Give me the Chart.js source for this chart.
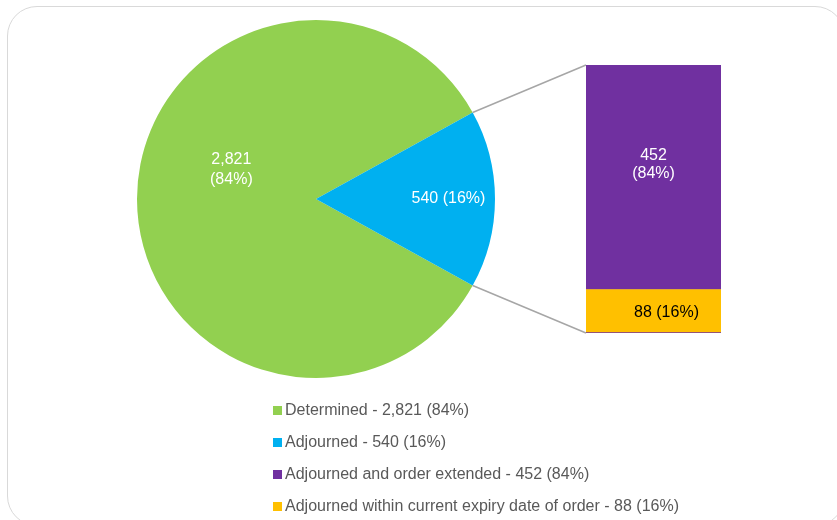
<!DOCTYPE html>
<html>
<head>
<meta charset="utf-8">
<script src="https://cdn.jsdelivr.net/npm/chart.js@4/dist/chart.umd.min.js"></script>
<style>
  html, body { margin: 0; padding: 0; background: #fff; }
  body { width: 837px; height: 520px; position: relative; overflow: hidden; font-family: "Liberation Sans", Arial, sans-serif; }
  #frame { position: absolute; left: 7px; top: 6px; width: 838px; height: 520px; border: 1.5px solid #d9d9d9; border-radius: 30px; box-sizing: border-box; }
  #pie { position: absolute; left: 0; top: 0; }
  #bar { position: absolute; left: 586px; top: 65px; }
  #legend { position: absolute; left: 273px; top: 400px; }
  .li { height: 32px; display: flex; align-items: flex-start; font-size: 16px; color: #595959; line-height: 20px; }
  .sw { width: 9px; height: 9px; margin-top: 6px; margin-right: 3px; flex: none; }
</style>
</head>
<body>
<div id="frame"></div>
<canvas id="pie" width="837" height="520"></canvas>
<canvas id="bar" width="135" height="268"></canvas>
<div id="legend"></div>
<script>
// ---- data ----
const pieLabels = ['Determined', 'Adjourned'];
const pieValues = [2821, 540];
const piePercents = ['84%', '16%'];
const pieColors = ['#92D050', '#00B0F0'];

const barLabels = ['Adjourned within current expiry date of order', 'Adjourned and order extended'];
const barValues = [88, 452];
const barPercents = ['16%', '84%'];
const barColors = ['#FFC000', '#7030A0'];

const legendLabels = ['Determined', 'Adjourned', 'Adjourned and order extended', 'Adjourned within current expiry date of order'];
const legendValues = [2821, 540, 452, 88];
const legendPercents = ['84%', '16%', '84%', '16%'];
const legendColors = ['#92D050', '#00B0F0', '#7030A0', '#FFC000'];

const fmt = v => v.toLocaleString('en-US');
const FONT = '16px "Liberation Sans", Arial, sans-serif';

// ---- bar (breakout) chart ----
const barLabelPlugin = {
  id: 'barLabels',
  afterDatasetsDraw(chart) {
    const ctx = chart.ctx;
    ctx.save();
    ctx.font = FONT;
    ctx.textAlign = 'center';
    ctx.textBaseline = 'middle';
    const e0 = chart.getDatasetMeta(0).data[0];
    ctx.fillStyle = '#000000';
    ctx.fillText(fmt(barValues[0]) + ' (' + barPercents[0] + ')', e0.x + 13, (e0.y + e0.base) / 2 + 1);
    const e1 = chart.getDatasetMeta(1).data[0];
    const cy = (e1.y + e1.base) / 2;
    ctx.fillStyle = '#ffffff';
    ctx.fillText(fmt(barValues[1]), e1.x, cy - 22);
    ctx.fillText('(' + barPercents[1] + ')', e1.x, cy - 4);
    ctx.restore();
  }
};

const barChart = new Chart(document.getElementById('bar'), {
  type: 'bar',
  data: {
    labels: ['Adjourned'],
    datasets: [
      { label: barLabels[0], data: [barValues[0]], backgroundColor: barColors[0],
        borderColor: barColors[1], borderWidth: { bottom: 1, top: 0, left: 0, right: 0 }, borderSkipped: false },
      { label: barLabels[1], data: [barValues[1]], backgroundColor: barColors[1], borderWidth: 0 }
    ]
  },
  options: {
    responsive: false,
    animation: false,
    barPercentage: 1,
    categoryPercentage: 1,
    layout: { padding: 0 },
    scales: {
      x: { stacked: true, display: false },
      y: { stacked: true, display: false, min: 0, max: barValues[0] + barValues[1] }
    },
    plugins: { legend: { display: false }, tooltip: { enabled: false } }
  },
  plugins: [barLabelPlugin]
});

// ---- pie chart ----
const labelPlacement = [ { frac: 0.50, dA: 19 * Math.PI / 180 }, { frac: 0.74, dA: 0 } ];

const pieLabelPlugin = {
  id: 'pieLabels',
  afterDatasetsDraw(chart) {
    const ctx = chart.ctx;
    const meta = chart.getDatasetMeta(0);
    ctx.save();
    ctx.font = FONT;
    ctx.textAlign = 'center';
    ctx.textBaseline = 'middle';
    ctx.fillStyle = '#ffffff';
    meta.data.forEach((arc, i) => {
      const mid = (arc.startAngle + arc.endAngle) / 2 + labelPlacement[i].dA;
      const r = arc.outerRadius * labelPlacement[i].frac;
      const x = arc.x + Math.cos(mid) * r;
      const y = arc.y + Math.sin(mid) * r;
      if (i === 0) {
        ctx.fillText(fmt(pieValues[i]), x, y - 10);
        ctx.fillText('(' + piePercents[i] + ')', x, y + 10);
      } else {
        ctx.fillText(fmt(pieValues[i]) + ' (' + piePercents[i] + ')', x, y);
      }
    });
    // connector lines from the Adjourned slice to the breakout bar
    const arc = meta.data[1];
    const p1 = { x: arc.x + Math.cos(arc.endAngle) * arc.outerRadius, y: arc.y + Math.sin(arc.endAngle) * arc.outerRadius };
    const p2 = { x: arc.x + Math.cos(arc.startAngle) * arc.outerRadius, y: arc.y + Math.sin(arc.startAngle) * arc.outerRadius };
    const barCanvas = document.getElementById('bar');
    const ox = barCanvas.offsetLeft, oy = barCanvas.offsetTop;
    const top = barChart.getDatasetMeta(1).data[0];
    const bot = barChart.getDatasetMeta(0).data[0];
    const tl = { x: ox + top.x - top.width / 2, y: oy + top.y };
    const bl = { x: ox + bot.x - bot.width / 2, y: oy + bot.base };
    const a = p1.y < p2.y ? p1 : p2, b = p1.y < p2.y ? p2 : p1;
    ctx.strokeStyle = '#A6A6A6';
    ctx.lineWidth = 1.5;
    ctx.beginPath();
    ctx.moveTo(a.x, a.y); ctx.lineTo(tl.x, tl.y);
    ctx.moveTo(b.x, b.y); ctx.lineTo(bl.x, bl.y);
    ctx.stroke();
    ctx.restore();
  }
};

const total = pieValues.reduce((s, v) => s + v, 0);
const adjSweep = pieValues[1] / total * 360;
new Chart(document.getElementById('pie'), {
  type: 'pie',
  data: {
    labels: pieLabels,
    datasets: [{ data: pieValues, backgroundColor: pieColors, borderWidth: 0 }]
  },
  options: {
    responsive: false,
    animation: false,
    rotation: 90 + adjSweep / 2,
    layout: { padding: { left: 137, right: 342, top: 20, bottom: 142 } },
    plugins: { legend: { display: false }, tooltip: { enabled: false } }
  },
  plugins: [pieLabelPlugin]
});

// ---- legend ----
const legend = document.getElementById('legend');
legendLabels.forEach((lab, i) => {
  const row = document.createElement('div');
  row.className = 'li';
  const sw = document.createElement('span');
  sw.className = 'sw';
  sw.style.background = legendColors[i];
  const tx = document.createElement('span');
  tx.textContent = lab + ' - ' + fmt(legendValues[i]) + ' (' + legendPercents[i] + ')';
  row.appendChild(sw); row.appendChild(tx);
  legend.appendChild(row);
});
</script>
</body>
</html>
